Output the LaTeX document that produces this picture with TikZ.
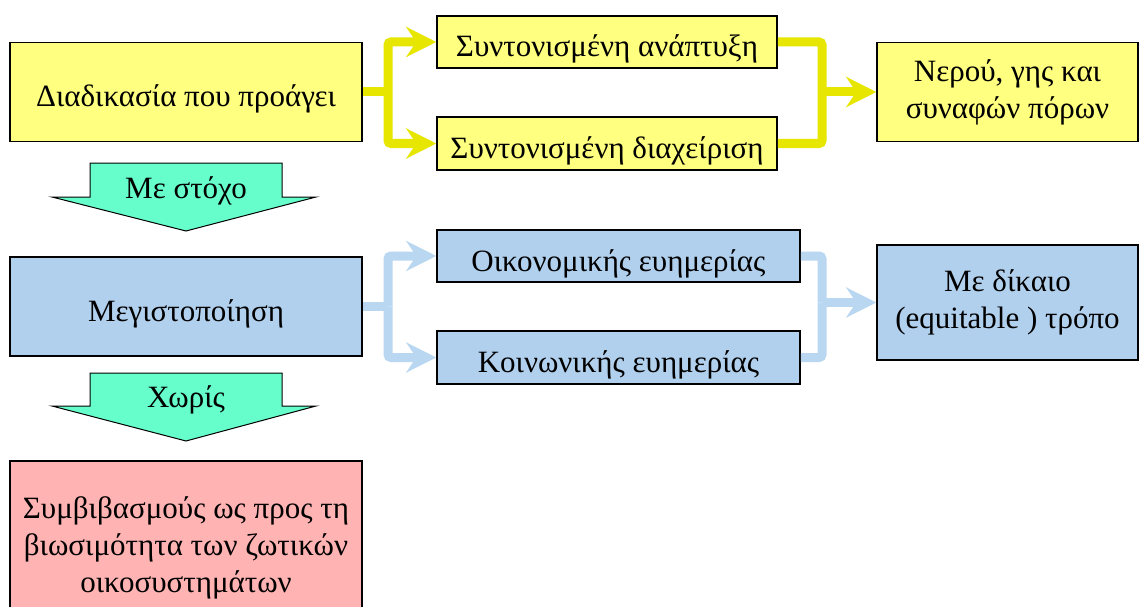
\documentclass[tikz,border=0pt]{standalone}
\usepackage{fontspec}
\setmainfont{Liberation Serif}
\usetikzlibrary{arrows.meta}
\definecolor{yfill}{RGB}{255,255,128}
\definecolor{yline}{RGB}{230,230,0}
\definecolor{bfill}{RGB}{177,208,237}
\definecolor{bline}{RGB}{186,215,241}
\definecolor{tfill}{RGB}{102,255,204}
\definecolor{pfill}{RGB}{255,179,179}
\tikzset{
  box/.style={draw=black, line width=1.5pt, inner sep=0pt, align=center, font=\fontsize{31}{37}\selectfont},
  oneline/.style={text height=30pt, text depth=0pt},
  ybox/.style={box, fill=yfill},
  bbox/.style={box, fill=bfill},
  pbox/.style={box, fill=pfill},
  yconn/.style={draw=yline, line width=9pt, rounded corners=3pt},
  bconn/.style={draw=bline, line width=9pt, rounded corners=3pt},
  tip/.style={-{Stealth[length=30pt, width=30pt, inset=10pt]}},
  darrow/.style={draw=black, line width=1pt, fill=tfill},
  lbl/.style={font=\fontsize{31}{37}\selectfont, inner sep=0pt},
}
\begin{document}
\begin{tikzpicture}[x=1pt,y=-1pt]
\clip (0,0) rectangle (1140,607);
\fill[white] (0,0) rectangle (1140,607);
% top row
\node[ybox, oneline, minimum width=352pt, minimum height=99pt] (d) at (186,92) {Διαδικασία που προάγει};
\node[ybox, oneline, minimum width=340pt, minimum height=52pt] (a1) at (607,42) {Συντονισμένη ανάπτυξη};
\node[ybox, oneline, minimum width=340pt, minimum height=53pt] (a2) at (607,143.5) {Συντονισμένη διαχείριση};
\node[ybox, minimum width=261pt, minimum height=99pt] (n) at (1007.5,92) {Νερού, γης και\\συναφών πόρων};
\coordinate (jyl) at (388,92);
\coordinate (jyr) at (822,92);
\draw[yconn] (d.east) -- (jyl);
\draw[yconn, tip] (jyl) |- (a1.west);
\draw[yconn, tip] (jyl) |- (a2.west);
\draw[yconn] (a1.east) -| (jyr);
\draw[yconn] (a2.east) -| (jyr);
\draw[yconn, tip] (jyr) -- (n.west);
% arrow 1
\draw[darrow] (90,163) -- (282,163) -- (282,197) -- (316,197) -- (186,231) -- (52,197) -- (90,197) -- cycle;
\node[lbl] (m1) at (186,191) {Με στόχο};
% middle row
\node[bbox, oneline, minimum width=352pt, minimum height=99pt] (mg) at (186,306.5) {Μεγιστοποίηση};
\node[bbox, oneline, minimum width=363pt, minimum height=52pt] (o) at (618.5,256) {Οικονομικής ευημερίας};
\node[bbox, oneline, minimum width=363pt, minimum height=53pt] (k) at (618.5,357.5) {Κοινωνικής ευημερίας};
\node[bbox, minimum width=261pt, minimum height=115pt] (e) at (1007.5,302.5) {Με δίκαιο\\(equitable ) τρόπο};
\coordinate (jbl) at (388,306.5);
\coordinate (jbr) at (822,302.5);
\draw[bconn] (mg.east) -- (jbl);
\draw[bconn, tip] (jbl) |- (o.west);
\draw[bconn, tip] (jbl) |- (k.west);
\draw[bconn] (o.east) -| (jbr);
\draw[bconn] (k.east) -| (jbr);
\draw[bconn, tip] (jbr) -- (e.west);
% arrow 2
\draw[darrow] (90,373) -- (282,373) -- (282,406) -- (316,406) -- (186,441) -- (52,406) -- (90,406) -- cycle;
\node[lbl] (m2) at (186,400) {Χωρίς};
% bottom
\node[pbox, minimum width=352pt, minimum height=174pt] (p) at (186,548) {Συμβιβασμούς ως προς τη\\βιωσιμότητα των ζωτικών\\οικοσυστημάτων};
\end{tikzpicture}
\end{document}
